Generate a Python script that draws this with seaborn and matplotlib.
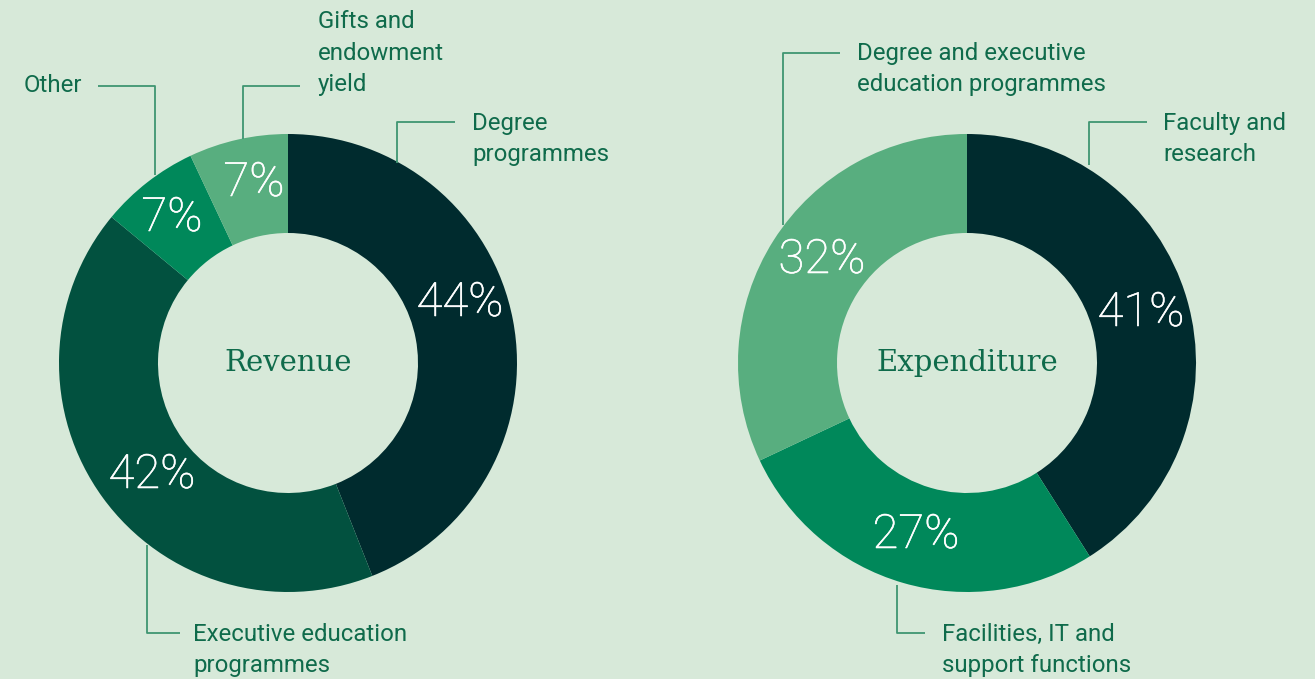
import numpy as np
import pandas as pd
import matplotlib.pyplot as plt
import matplotlib.patheffects as pe
import seaborn as sns

# data
rev_labels = ["Degree\nprogrammes", "Executive education\nprogrammes", "Other", "Gifts and\nendowment\nyield"]
rev_values = [44, 42, 7, 7]
exp_labels = ["Faculty and\nresearch", "Facilities, IT and\nsupport functions", "Degree and executive\neducation programmes"]
exp_values = [41, 27, 32]

bg = "#d7e9d9"
dark, deep, mid, light = "#002b2e", "#02513f", "#00885a", "#58ae7f"
rev_colors = [dark, deep, mid, light]
exp_colors = [dark, mid, light]
text_col = "#0f6b4b"
line_col = "#3f9571"

sns.set_theme(style="white", rc={"figure.facecolor": bg, "axes.facecolor": bg})
plt.rcParams["font.family"] = ["Roboto", "DejaVu Sans"]

W, H = 1315, 679
fig = plt.figure(figsize=(W / 100, H / 100), dpi=100)
ax = fig.add_axes([0, 0, 1, 1])
ax.set_xlim(0, W)
ax.set_ylim(0, H)
ax.set_aspect("equal")
ax.axis("off")


def Y(y):
    return H - y


R_OUT, R_IN = 229, 130

charts = [
    dict(title="Revenue", values=rev_values, labels=rev_labels, colors=rev_colors, center=(288, 363),
         pct_pos=[(460, 303), (152, 475), (172, 218), (254, 183)],
         text_pos=[(472, 139), (193, 650), (24, 86), (318, 53)],
         leaders=[[(397, 163), (397, 122), (455, 122)],
                  [(147, 545), (147, 633), (180, 633)],
                  [(155, 175), (155, 86), (98, 86)],
                  [(243, 139), (243, 86), (300, 86)]]),
    dict(title="Expenditure", values=exp_values, labels=exp_labels, colors=exp_colors, center=(967, 363),
         pct_pos=[(1141, 313), (916, 535), (822, 260)],
         text_pos=[(1163, 139), (942, 650), (857, 69)],
         leaders=[[(1089, 165), (1089, 122), (1147, 122)],
                  [(897, 585), (897, 633), (925, 633)],
                  [(783, 225), (783, 53), (840, 53)]]),
]

# thin face plus a slight stroke to approximate a light weight
light_fx = [pe.withStroke(linewidth=0.4, foreground="white")]

for c in charts:
    cx, cy = c["center"]
    ax.pie(c["values"], colors=c["colors"], startangle=90, counterclock=False,
           center=(cx, Y(cy)), radius=R_OUT, frame=True,
           wedgeprops=dict(width=R_OUT - R_IN, linewidth=0))
    ax.text(cx, Y(cy), c["title"], ha="center", va="center", fontsize=21,
            family="DejaVu Serif", color=text_col)
    for v, (px, py) in zip(c["values"], c["pct_pos"]):
        ax.text(px, Y(py), f"{v}%", ha="center", va="center", fontsize=34,
                fontweight=200, color="white", path_effects=light_fx)
    for lab, (tx, ty), pts in zip(c["labels"], c["text_pos"], c["leaders"]):
        ax.text(tx, Y(ty), lab, ha="left", va="center", fontsize=17.3,
                color=text_col, linespacing=1.45)
        xs = [p[0] for p in pts]
        ys = [Y(p[1]) for p in pts]
        ax.plot(xs, ys, color=line_col, lw=1.3, solid_capstyle="butt")

ax.set_xlim(0, W)
ax.set_ylim(0, H)
ax.axis("off")
fig.savefig("out.png", dpi=100, facecolor=bg)
